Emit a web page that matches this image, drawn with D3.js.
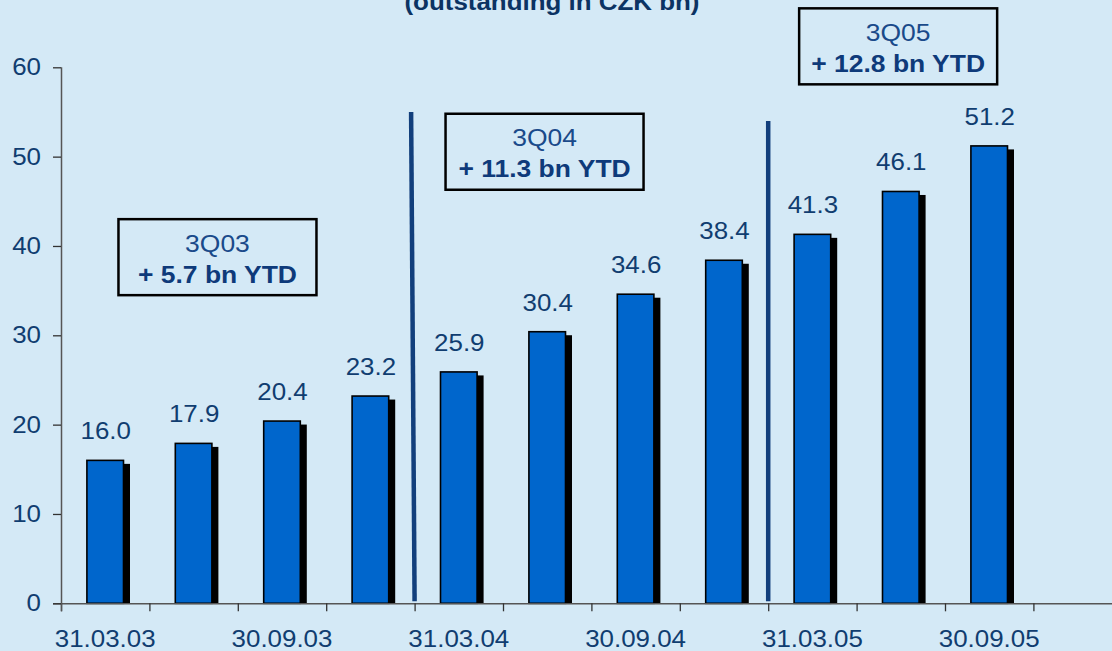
<!DOCTYPE html>
<html>
<head>
<meta charset="utf-8">
<script src="https://cdn.jsdelivr.net/npm/d3@7"></script>
<style>
  html, body { margin: 0; padding: 0; background: #d4e9f6; }
  svg { display: block; }
  text { font-family: Arial, "Liberation Sans", sans-serif; }
</style>
</head>
<body>
<svg id="chart" width="1112" height="651"></svg>
<script>
// Quarter-end dates and outstanding volume (CZK bn)
const categories = ["31.03.03", "30.06.03", "30.09.03", "31.12.03", "31.03.04", "30.06.04",
                    "30.09.04", "31.12.04", "31.03.05", "30.06.05", "30.09.05"];
const values = [16.0, 17.9, 20.4, 23.2, 25.9, 30.4, 34.6, 38.4, 41.3, 46.1, 51.2];
const tickLabels = ["31.03.03", "30.09.03", "31.03.04", "30.09.04", "31.03.05", "30.09.05"];
const yTicks = [0, 10, 20, 30, 40, 50, 60];
const title = "(outstanding in CZK bn)";
const boxPeriods = ["3Q03", "3Q04", "3Q05"];
const boxGrowth = ["+ 5.7 bn YTD", "+ 11.3 bn YTD", "+ 12.8 bn YTD"];

// Layout
const W = 1112, H = 651;
const x0 = 61, step = 88.4, slots = 12;
const yBottom = 603.3, yTop = 67.3;
const textStretch = 1.08;
const navy = "#103d70";

const svg = d3.select("#chart");
svg.append("rect").attr("width", W).attr("height", H).attr("fill", "#d4e9f6");

const xBand = d3.scaleBand()
  .domain(d3.range(slots))
  .range([x0, x0 + slots * step])
  .paddingInner(0.586)
  .paddingOuter(0.293);
const xEdge = d3.scaleLinear().domain([0, slots]).range([x0, x0 + slots * step]);
const y = d3.scaleLinear().domain([0, 60]).range([yBottom, yTop]);

function placeText(g, x, yy) {
  return g.attr("transform", `translate(${x},${yy}) scale(${textStretch},1)`);
}

// Title (upper part runs off the top edge)
placeText(svg.append("text"), 552, 9.5)
  .attr("text-anchor", "middle")
  .attr("font-size", 24)
  .attr("font-weight", "bold")
  .attr("fill", "#0b3363")
  .text(title);

// Bars: drop shadow first, then the blue bar
const bars = svg.append("g");
const bw = xBand.bandwidth();
const sdx = 6.5, sdy = 3.5;
bars.selectAll("rect.shadow")
  .data(values)
  .join("rect")
  .attr("class", "shadow")
  .attr("x", (d, i) => xBand(i) + sdx)
  .attr("y", d => y(d) + sdy)
  .attr("width", bw)
  .attr("height", d => y(0) - y(d) - sdy)
  .attr("fill", "#000");
bars.selectAll("rect.bar")
  .data(values)
  .join("rect")
  .attr("class", "bar")
  .attr("x", (d, i) => xBand(i))
  .attr("y", d => y(d))
  .attr("width", bw)
  .attr("height", d => y(0) - y(d))
  .attr("fill", "#0066cc")
  .attr("stroke", "#000")
  .attr("stroke-width", 1.6);

// Value labels
svg.append("g").selectAll("text")
  .data(values)
  .join("text")
  .attr("transform", (d, i) => `translate(${xBand(i) + bw / 2 + 0.5},${y(d) - 21}) scale(${textStretch},1)`)
  .attr("text-anchor", "middle")
  .attr("font-size", 24)
  .attr("fill", navy)
  .text(d => d.toFixed(1));

// X axis: tick marks at quarter boundaries
const xAxis = svg.append("g")
  .attr("transform", `translate(0,${yBottom})`)
  .call(d3.axisBottom(xEdge).tickValues(d3.range(slots)).tickFormat("").tickSize(8).tickSizeOuter(0));
xAxis.select(".domain").attr("stroke", "#555").attr("stroke-width", 1.5);
xAxis.selectAll(".tick line").attr("stroke", "#333").attr("stroke-width", 1.3);
xAxis.select(".domain").attr("d", `M${x0 - 8},0.5H${W + 20}`);

// X labels under every second quarter
svg.append("g").selectAll("text")
  .data(tickLabels)
  .join("text")
  .attr("transform", d => `translate(${xBand(categories.indexOf(d)) + bw / 2},646.5) scale(${textStretch},1)`)
  .attr("text-anchor", "middle")
  .attr("font-size", 24)
  .attr("fill", navy)
  .text(d => d);

// Y axis
const yAxis = svg.append("g")
  .attr("transform", `translate(${x0},0)`)
  .call(d3.axisLeft(y).tickValues(yTicks).tickSize(8).tickPadding(10.5).tickSizeOuter(0));
yAxis.select(".domain").attr("stroke", "#555").attr("stroke-width", 1.5)
  .attr("d", `M0.5,${yTop}V${yBottom + 8}`);
yAxis.selectAll(".tick line").attr("stroke", "#333").attr("stroke-width", 1.3);
yAxis.selectAll(".tick text")
  .attr("font-size", 24)
  .attr("fill", navy)
  .attr("font-family", "Arial, 'Liberation Sans', sans-serif")
  .attr("transform", `scale(${textStretch},1)`);

// Year dividers between Q4 and Q1
const dividers = [
  { edge: 4, top: 55, lean: -3.5, shift: 0 },
  { edge: 8, top: 54, lean: 0, shift: 0 }
];
svg.append("g").selectAll("line")
  .data(dividers)
  .join("line")
  .attr("x1", d => xEdge(d.edge) + d.shift + d.lean)
  .attr("y1", d => y(d.top))
  .attr("x2", d => xEdge(d.edge) + d.shift)
  .attr("y2", yBottom - 2)
  .attr("stroke", "#123f7c")
  .attr("stroke-width", 4.5);

// Year-to-date growth boxes
const boxLayout = [
  { cx: 1.77, top: 43.0 },
  { cx: 5.47, top: 54.8 },
  { cx: 9.47, top: 66.6 }
];
const boxW = 198, boxH = 76;
const boxes = svg.append("g").selectAll("g")
  .data(boxLayout)
  .join("g")
  .attr("transform", d => `translate(${xEdge(d.cx)},${y(d.top)})`);
boxes.append("rect")
  .attr("x", -boxW / 2)
  .attr("y", 0)
  .attr("width", boxW)
  .attr("height", boxH)
  .attr("fill", "none")
  .attr("stroke", "#000")
  .attr("stroke-width", 2.5);
boxes.append("text")
  .attr("transform", `translate(0,32.5) scale(${textStretch},1)`)
  .attr("text-anchor", "middle")
  .attr("font-size", 24.5)
  .attr("fill", "#1a4a8a")
  .text((d, i) => boxPeriods[i]);
boxes.append("text")
  .attr("transform", `translate(0,63.5) scale(${textStretch},1)`)
  .attr("text-anchor", "middle")
  .attr("font-size", 24.5)
  .attr("font-weight", "bold")
  .attr("fill", "#0e3a7a")
  .text((d, i) => boxGrowth[i]);
</script>
</body>
</html>
